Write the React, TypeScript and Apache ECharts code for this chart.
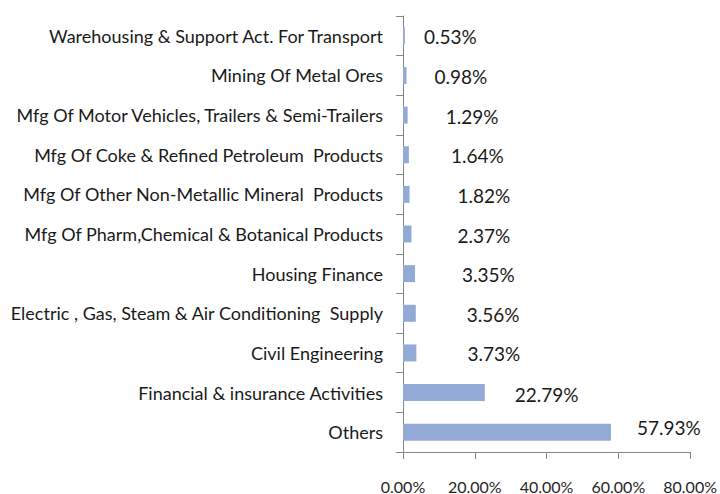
import React, { useEffect, useRef } from "react";
import * as echarts from "echarts";

const categories = [
  "Warehousing & Support Act. For Transport",
  "Mining Of Metal Ores",
  "Mfg Of Motor Vehicles, Trailers & Semi-Trailers",
  "Mfg Of Coke & Refined Petroleum  Products",
  "Mfg Of Other Non-Metallic Mineral  Products",
  "Mfg Of Pharm,Chemical & Botanical Products",
  "Housing Finance",
  "Electric , Gas, Steam & Air Conditioning  Supply",
  "Civil Engineering",
  "Financial & insurance Activities",
  "Others",
];

const values = [0.53, 0.98, 1.29, 1.64, 1.82, 2.37, 3.35, 3.56, 3.73, 22.79, 57.93];

const xTicks = { min: 0, max: 80, interval: 20 };

// label placement (layout only, not data)
const labelOffsets: [number, number][] = [
  [19, 1], [28, 1], [38, 1], [42, 1], [48, 1], [46, 1], [47, 1], [51, 1], [51, 1], [30, 2], [26, -5],
];

export default function App() {
  const ref = useRef<HTMLDivElement>(null);
  useEffect(() => {
    if (!ref.current) return;
    const chart = echarts.init(ref.current, null, { renderer: "svg" });
    const font = "Lato, 'Open Sans', sans-serif";
    chart.setOption({
      animation: false,
      backgroundColor: "#ffffff",
      grid: { left: 403, right: 28, top: 16, bottom: 42, containLabel: false },
      xAxis: {
        type: "value",
        min: xTicks.min,
        max: xTicks.max,
        interval: xTicks.interval,
        axisLine: { show: true, lineStyle: { color: "#868686", width: 1 } },
        axisTick: { show: true, length: 7, lineStyle: { color: "#868686" } },
        splitLine: { show: false },
        axisLabel: {
          margin: 26,
          color: "#262626",
          fontFamily: font,
          fontSize: 16,
          formatter: (v: number) => v.toFixed(2) + "%",
        },
      },
      yAxis: {
        type: "category",
        inverse: true,
        data: categories,
        axisLine: { show: true, lineStyle: { color: "#868686", width: 1 } },
        axisTick: { show: true, length: 7, alignWithLabel: false, lineStyle: { color: "#868686" } },
        axisLabel: {
          margin: 20,
          color: "#1a1a1a",
          fontFamily: font,
          fontSize: 18,
          padding: [6, 0, 0, 0],
        },
      },
      series: [
        {
          type: "bar",
          barWidth: 17,
          itemStyle: { color: "#94AAD6" },
          data: values.map((v, i) => ({
            value: v,
            label: { offset: labelOffsets[i] },
          })),
          label: {
            show: true,
            position: "right",
            distance: 0,
            color: "#1a1a1a",
            fontFamily: font,
            fontSize: 19,
            formatter: (p: any) => p.value.toFixed(2) + "%",
          },
        },
      ],
    });
    return () => chart.dispose();
  }, []);
  return (
    <div
      ref={ref}
      style={{ position: "absolute", left: 0, top: 0, width: 720, height: 494 }}
    />
  );
}
